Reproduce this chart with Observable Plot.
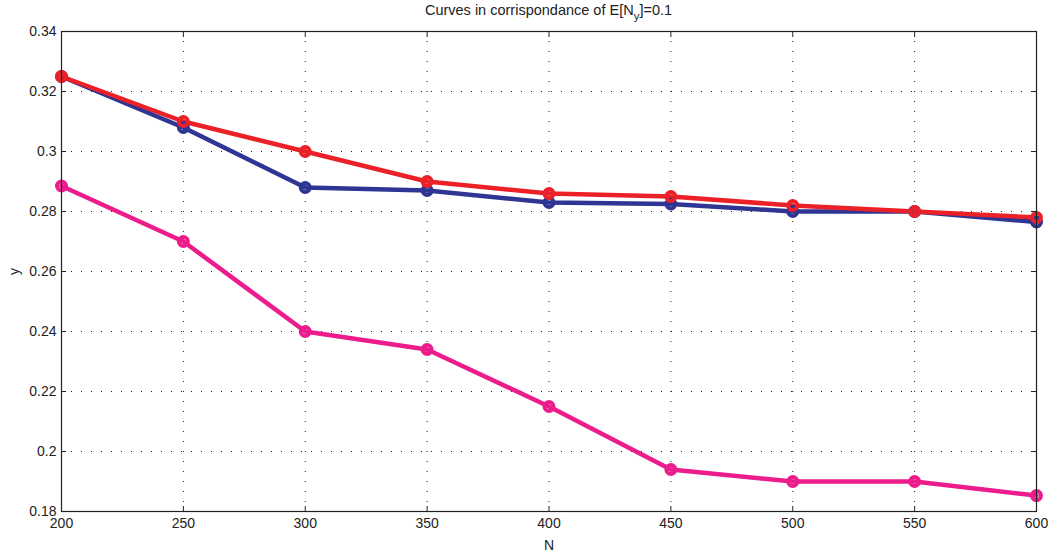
<!DOCTYPE html>
<html>
<head>
<meta charset="utf-8">
<script src="https://cdn.jsdelivr.net/npm/d3@7"></script>
<script src="https://cdn.jsdelivr.net/npm/@observablehq/plot@0.6"></script>
<style>
  html, body { margin: 0; padding: 0; background: #fff; }
  #chart svg { display: block; }
</style>
</head>
<body>
<div id="chart"></div>
<script>
const N = [200, 250, 300, 350, 400, 450, 500, 550, 600];
const blue = [0.325, 0.308, 0.288, 0.287, 0.283, 0.2825, 0.280, 0.280, 0.2765];
const red = [0.325, 0.310, 0.300, 0.290, 0.286, 0.285, 0.282, 0.280, 0.278];
const magenta = [0.2885, 0.270, 0.240, 0.234, 0.215, 0.194, 0.190, 0.190, 0.1853];
const xTicks = [200, 250, 300, 350, 400, 450, 500, 550, 600];
const yTicks = [0.18, 0.2, 0.22, 0.24, 0.26, 0.28, 0.3, 0.32, 0.34];
const seriesNames = ["series A", "series B", "series C"];
const seriesValues = [magenta, blue, red];
const seriesColors = ["#EC1C8C", "#2E3592", "#EC2027"];

const data = seriesNames.flatMap((s, i) => N.map((n, j) => ({series: s, N: n, y: seriesValues[i][j]})));

const font = "Liberation Sans, Arial, Helvetica, sans-serif";

const plot = Plot.plot({
  width: 1051,
  height: 554,
  marginLeft: 61,
  marginRight: 15,
  marginTop: 31,
  marginBottom: 43,
  style: {fontFamily: font, fontSize: "14px", color: "#222", background: "#fff"},
  x: {domain: [200, 600], ticks: xTicks},
  y: {domain: [0.18, 0.34], ticks: yTicks},
  color: {domain: seriesNames, range: seriesColors},
  marks: [
    Plot.gridX(xTicks, {stroke: "#222", strokeOpacity: 1, strokeDasharray: "1,9", strokeWidth: 1}),
    Plot.gridY(yTicks, {stroke: "#222", strokeOpacity: 1, strokeDasharray: "1,9", strokeWidth: 1}),
    Plot.line(data, {x: "N", y: "y", z: "series", stroke: "series", strokeWidth: 4.5, strokeLinejoin: "round"}),
    Plot.dot(data, {x: "N", y: "y", stroke: "series", r: 4.5, strokeWidth: 4, fill: "none"}),
    Plot.frame({stroke: "#222", strokeWidth: 1.2}),
    Plot.axisX(xTicks, {anchor: "bottom", tickSize: -5, tickPadding: 12, fontSize: 14, label: "N", labelAnchor: "center", labelOffset: 38, labelArrow: "none"}),
    Plot.axisX(xTicks, {anchor: "top", tickSize: -5, tickFormat: () => "", label: null}),
    Plot.axisY(yTicks, {anchor: "left", tickSize: -5, tickPadding: 10, fontSize: 14, tickFormat: d => String(+d.toFixed(2)), label: "y", labelAnchor: "center", labelOffset: 52, labelArrow: "none"}),
    Plot.axisY(yTicks, {anchor: "right", tickSize: -5, tickFormat: () => "", label: null})
  ]
});

const svg = d3.select(plot);
const t = svg.append("text")
  .attr("x", 548.5)
  .attr("y", 15)
  .attr("text-anchor", "middle")
  .attr("font-family", font)
  .attr("font-size", 14.5)
  .attr("fill", "#222");
t.append("tspan").text("Curves in corrispondance of E[N");
t.append("tspan").attr("dy", 5).attr("font-size", 11.5).text("y");
t.append("tspan").attr("dy", -5).text("]=0.1");

document.getElementById("chart").appendChild(plot);
</script>
</body>
</html>
